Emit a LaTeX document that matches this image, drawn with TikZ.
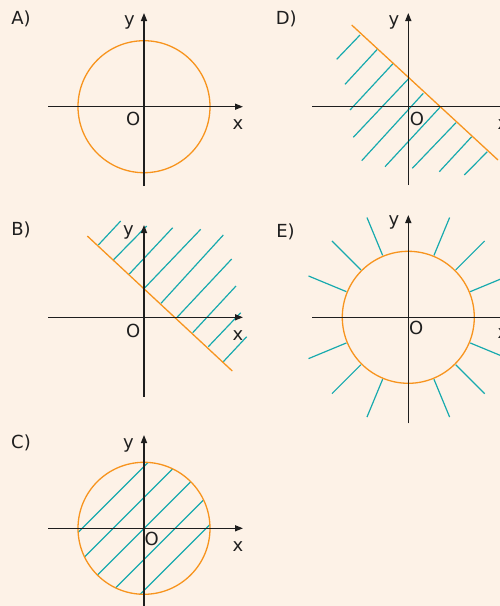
\documentclass[tikz,border=0pt]{standalone}
\usepackage{fontspec}
\setmainfont{DejaVu Sans}
\usetikzlibrary{arrows.meta,calc}
\definecolor{bg}{RGB}{253,242,231}
\definecolor{org}{RGB}{247,148,30}
\definecolor{tealc}{RGB}{23,170,174}
\definecolor{axc}{RGB}{30,30,30}
\tikzset{
  axisline/.style={draw=axc, line width=1.4pt, -{Triangle[length=8pt,width=6pt]}},
  curveline/.style={draw=org, line width=1.3pt},
  hatchline/.style={draw=tealc, line width=1.2pt},
  lbl/.style={font=\fontsize{18}{20}\selectfont, anchor=base, inner sep=0pt, text=black!88},
}
\begin{document}
\begin{tikzpicture}[x=1pt,y=-1pt]
\fill[bg] (0,0) rectangle (500,606);
\clip (0,0) rectangle (500,606);

% ---------------- A ----------------
\coordinate (Ao) at (144,106.7);
\draw[curveline] (Ao) circle[radius=66];
\draw[axisline] (48,106.7) coordinate (Axs) -- (243,106.7) coordinate (Axe);
\draw[axisline] (144,186) coordinate (Ays) -- (144,13) coordinate (Aye);
\node[lbl] (Alab) at (21,24) {A)};
\node[lbl] (Ay) at (129.5,25.7) {y};
\node[lbl] (AO) at (133.3,125.5) {O};
\node[lbl] (Ax) at (238,129) {x};

% ---------------- D ----------------
\foreach \a/\b/\c/\d in {360/35/336.7/59.3, 377.3/49.3/345/84.3, 393.3/63.3/350/110,
  408.3/79/353.3/137.3, 423.3/93.3/361.7/160.7, 440/107.3/385/166.7,
  456/122.7/412.3/168.3, 471.7/136.7/439.3/171.7, 487.3/151.7/464.3/175}
  \draw[hatchline] (\a,\b) -- (\c,\d);
\draw[curveline] (351.7,25) coordinate (Dl1) -- (498,160) coordinate (Dl2);
\draw[axisline] (312,106.7) coordinate (Dxs) -- (508,106.7) coordinate (Dxe);
\draw[axisline] (408.3,185) coordinate (Dys) -- (408.3,13) coordinate (Dye);
\node[lbl] (Dlab) at (286.3,24) {D)};
\node[lbl] (Dy) at (394,25.7) {y};
\node[lbl] (DO) at (417,125.7) {O};
\node[lbl] (Dx) at (503,129) {x};

% ---------------- B ----------------
\foreach \a/\b/\c/\d in {98.3/245/120.7/221, 113.3/260/146.7/226, 129.3/274/172.7/227.7,
  144.3/288.3/200.7/229.3, 161/303.3/223.3/235, 176.7/317.7/231.7/259,
  192.7/332.7/236/286, 208.3/346.7/240.7/312.7, 223.3/361.7/246.7/336.7}
  \draw[hatchline] (\a,\b) -- (\c,\d);
\draw[curveline] (87.3,236) coordinate (Bl1) -- (232.3,371) coordinate (Bl2);
\draw[axisline] (48,317.3) coordinate (Bxs) -- (243,317.3) coordinate (Bxe);
\draw[axisline] (144,396.7) coordinate (Bys) -- (144,225) coordinate (Bye);
\node[lbl] (Blab) at (21,235) {B)};
\node[lbl] (By) at (128.5,235.7) {y};
\node[lbl] (BO) at (133.3,337) {O};
\node[lbl] (Bx) at (238,340) {x};

% ---------------- E ----------------
\coordinate (Eo) at (408.3,317.3);
\foreach \ang in {22.5,45,67.5,112.5,135,157.5,202.5,225,247.5,292.5,315,337.5}
  \draw[hatchline] ($(Eo)+(\ang:67)$) -- ($(Eo)+(\ang:108)$);
\draw[curveline] (Eo) circle[radius=66];
\draw[axisline] (312,317.3) coordinate (Exs) -- (508,317.3) coordinate (Exe);
\draw[axisline] (408.3,423.3) coordinate (Eys) -- (408.3,215) coordinate (Eye);
\node[lbl] (Elab) at (285.5,237) {E)};
\node[lbl] (Ey) at (394,225.7) {y};
\node[lbl] (EO) at (416.2,334.3) {O};
\node[lbl] (Ex) at (503,338) {x};

% ---------------- C ----------------
\coordinate (Co) at (144,528.3);
\begin{scope}
  \clip (Co) circle[radius=66];
  \foreach \k in {-2,-1,0,1,2}
    \draw[hatchline] (40,{672.5+31*\k-40}) -- (250,{672.5+31*\k-250});
\end{scope}
\draw[curveline] (Co) circle[radius=66];
\draw[axisline] (48,528.3) coordinate (Cxs) -- (243,528.3) coordinate (Cxe);
\draw[axisline] (144,612) coordinate (Cys) -- (144,435) coordinate (Cye);
\node[lbl] (Clab) at (21,448) {C)};
\node[lbl] (Cy) at (128.5,448.3) {y};
\node[lbl] (CO) at (151.7,545.7) {O};
\node[lbl] (Cx) at (238,551.7) {x};
\end{tikzpicture}
\end{document}
